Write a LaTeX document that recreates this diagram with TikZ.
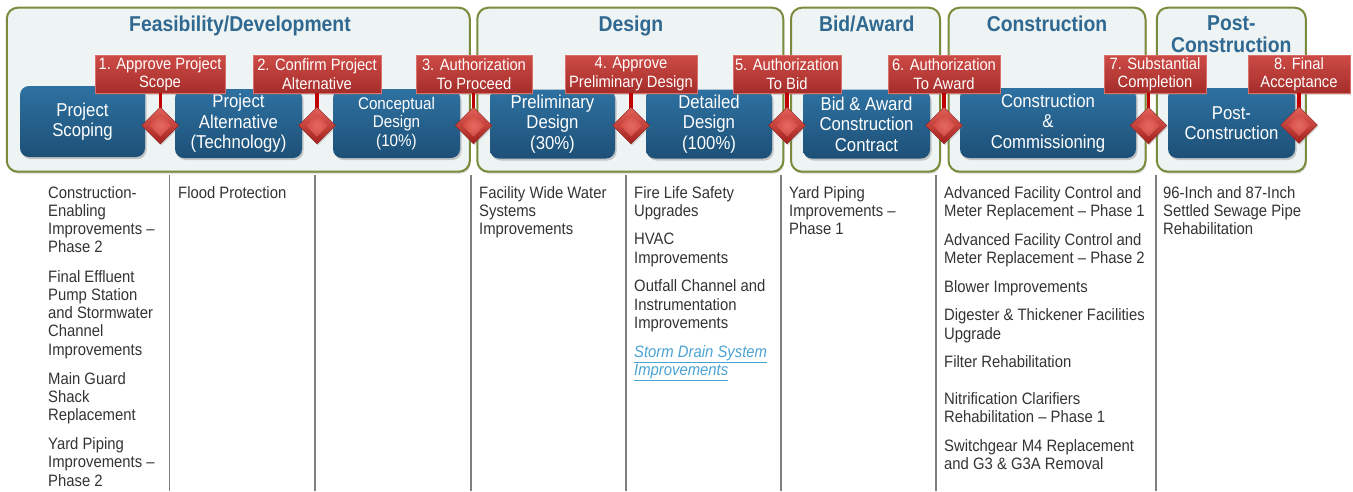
\documentclass[tikz,border=0pt]{standalone}
\usepackage{fontspec}
\setmainfont[FakeStretch=0.9]{Liberation Sans}
\usetikzlibrary{shapes.geometric,shadows}

\definecolor{panelfill}{HTML}{EEF3F3}
\definecolor{paneledge}{HTML}{7A8B3C}
\definecolor{phaseblue}{HTML}{2F6890}
\definecolor{boxtop}{HTML}{2E71A1}
\definecolor{boxbot}{HTML}{1D5077}
\definecolor{gatetop}{HTML}{CD4B46}
\definecolor{gatebot}{HTML}{A52D2A}
\definecolor{gateedge}{HTML}{D9706A}
\definecolor{gatehi}{HTML}{E2625A}
\definecolor{gatelo}{HTML}{A3211D}
\definecolor{gatecore}{HTML}{E46A61}
\definecolor{gatemid}{HTML}{C9392F}
\definecolor{stemred}{HTML}{C00000}
\definecolor{rulegray}{HTML}{7F7F7F}
\definecolor{bodytext}{HTML}{333333}
\definecolor{linkblue}{HTML}{4AA3D3}

\pgfdeclarelayer{front}
\pgfsetlayers{main,front}

\begin{document}
\begin{tikzpicture}[x=1pt,y=-1pt,
  panel/.style={draw=paneledge, line width=2pt, fill=panelfill,
    rounded corners=11pt, inner sep=0pt, minimum height=164pt,
    drop shadow={shadow xshift=1pt, shadow yshift=-2pt, opacity=0.35}},
  phasetitle/.style={anchor=base, inner sep=0pt, text=phaseblue,
    font=\fontsize{21.5}{22.7}\selectfont\bfseries},
  procbox/.style={rounded corners=9pt, top color=boxtop, bottom color=boxbot,
    text=white, align=center, inner sep=0pt, minimum height=69pt,
    font=\fontsize{18.6}{20.5}\selectfont,
    drop shadow={shadow xshift=1.5pt, shadow yshift=-2pt, opacity=0.4}},
  gatelabel/.style={top color=gatetop, bottom color=gatebot, draw=gateedge,
    line width=0.8pt, text=white, align=center, inner sep=0pt,
    minimum height=38pt, font=\fontsize{16.4}{18.3}\selectfont,
    drop shadow={shadow xshift=1pt, shadow yshift=-1.5pt, opacity=0.3}},
  gate/.style={diamond, shape aspect=1, minimum width=37pt, minimum height=37pt,
    inner sep=0pt, top color=gatehi, bottom color=gatelo,
    draw=gatelo!85!black, line width=0.4pt,
    drop shadow={shadow xshift=1pt, shadow yshift=-1.5pt, opacity=0.3},
    path picture={
      \shade[inner color=gatecore, outer color=gatemid]
        (path picture bounding box.center) +(0,-11) -- +(11,0) -- +(0,11) -- +(-11,0) -- cycle;}},
  stem/.style={draw=stemred, line width=3.5pt},
  colrule/.style={draw=rulegray, line width=1.4pt},
  coltext/.style={anchor=base west, inner sep=0pt, text=bodytext,
    font=\fontsize{16.5}{18.3}\selectfont}
]
\useasboundingbox (0,0) rectangle (1353,491);

% phase panels
\node[panel, minimum width=463pt] (pfeas) at (238.3,89.7) {};
\node[panel, minimum width=306pt] (pdes)  at (630.3,89.7) {};
\node[panel, minimum width=149pt] (pbid)  at (865.5,89.7) {};
\node[panel, minimum width=197pt] (pcon)  at (1047,89.7) {};
\node[panel, minimum width=149pt] (ppost) at (1231.3,89.7) {};

% phase titles
\node[phasetitle] (tfeas) at (240,31.5) {Feasibility/Development};
\node[phasetitle] (tdes)  at (631,31.5) {Design};
\node[phasetitle] (tbid)  at (866.7,31.5) {Bid/Award};
\node[phasetitle] (tcon)  at (1047,31.5) {Construction};
\node[phasetitle] (tpost) at (1231.3,30)
  {\parbox[t]{150pt}{\centering Post-\\Construction}};

% process steps
\node[procbox, minimum width=125pt, minimum height=71pt] (b1) at (82.5,121.5) {Project\\Scoping};
\node[procbox, minimum width=127pt] (b2) at (238.5,123.5) {Project\\Alternative\\(Technology)};
\node[procbox, minimum width=127pt, font=\fontsize{16.9}{18.5}\selectfont] (b3) at (396.5,123.5) {Conceptual\\Design\\(10\%)};
\node[procbox, minimum width=125pt] (b4) at (552.5,124) {Preliminary\\Design\\(30\%)};
\node[procbox, minimum width=126pt] (b5) at (709,124) {Detailed\\Design\\(100\%)};
\node[procbox, minimum width=127pt] (b6) at (866.5,124) {Bid \& Award\\Construction\\Contract};
\node[procbox, minimum width=176pt, minimum height=70pt] (b7) at (1048,123) {Construction\\\&\\Commissioning};
\node[procbox, minimum width=127pt, minimum height=70pt] (b8) at (1231.5,123) {Post-\\Construction};

% decision gates, kept on the front layer above their stems
\begin{pgfonlayer}{front}
\node[gate] (g1) at (160.3,125.5) {};
\node[gate] (g2) at (317,125.5) {};
\node[gate] (g3) at (473.5,125.5) {};
\node[gate] (g4) at (631,125.5) {};
\node[gate] (g5) at (787,125.5) {};
\node[gate] (g6) at (944,125.5) {};
\node[gate] (g7) at (1148.5,125.5) {};
\node[gate] (g8) at (1299,125) {};
\end{pgfonlayer}

% gate labels
\node[gatelabel, minimum width=130pt] (l1) at (160,74) {1. Approve Project\\Scope};
\node[gatelabel, minimum width=128pt] (l2) at (317,74) {2. Confirm Project\\Alternative};
\node[gatelabel, minimum width=116pt] (l3) at (474,74) {3. Authorization\\To Proceed};
\node[gatelabel, minimum width=132pt] (l4) at (631,74) {4. Approve\\Preliminary Design};
\node[gatelabel, minimum width=108pt] (l5) at (787,74) {5. Authorization\\To Bid};
\node[gatelabel, minimum width=112pt] (l6) at (944,74) {6. Authorization\\To Award};
\node[gatelabel, minimum width=102pt] (l7) at (1155,74) {7. Substantial\\Completion};
\node[gatelabel, minimum width=102pt] (l8) at (1299,74) {8. Final\\Acceptance};

% stems from labels down to gates
\foreach \i in {1,...,8}{
  \draw[stem] (l\i.south -| g\i.north) -- (g\i.center);
}

% column rules
\foreach \x in {169.3,315,471,626,781,936,1156}{
  \draw[colrule] (\x,175) -- (\x,491);
}

% project lists
\node[coltext] (c1) at (48,198) {\parbox[t]{130pt}{\raggedright
  Construction-\\Enabling\\Improvements –\\Phase 2\\[10.8pt]
  Final Effluent\\Pump Station\\and Stormwater\\Channel\\Improvements\\[10.8pt]
  Main Guard\\Shack\\Replacement\\[10.3pt]
  Yard Piping\\Improvements –\\Phase 2}};
\node[coltext] (c2) at (178,198) {Flood Protection};
\node[coltext] (c4) at (479,198) {\parbox[t]{150pt}{\raggedright
  Facility Wide Water\\Systems\\Improvements}};
\node[coltext] (c5) at (634,198) {\parbox[t]{150pt}{\raggedright
  Fire Life Safety\\Upgrades\\[10.3pt]
  HVAC\\Improvements\\[10.3pt]
  Outfall Channel and\\Instrumentation\\Improvements\\[10.3pt]
  {\color{linkblue}\itshape\underline{Storm Drain System}\\\underline{Improvements}}}};
\node[coltext] (c6) at (789,198) {\parbox[t]{150pt}{\raggedright
  Yard Piping\\Improvements –\\Phase 1}};
\node[coltext] (c7) at (944,198) {\parbox[t]{220pt}{\raggedright
  Advanced Facility Control and\\Meter Replacement – Phase 1\\[10.7pt]
  Advanced Facility Control and\\Meter Replacement – Phase 2\\[10.5pt]
  Blower Improvements\\[10.2pt]
  Digester \& Thickener Facilities\\Upgrade\\[10.4pt]
  Filter Rehabilitation\\[18pt]
  Nitrification Clarifiers\\Rehabilitation – Phase 1\\[10.7pt]
  Switchgear M4 Replacement\\and G3 \& G3A Removal}};
\node[coltext] (c8) at (1163,198) {\parbox[t]{180pt}{\raggedright
  96-Inch and 87-Inch\\Settled Sewage Pipe\\Rehabilitation}};
\end{tikzpicture}
\end{document}
